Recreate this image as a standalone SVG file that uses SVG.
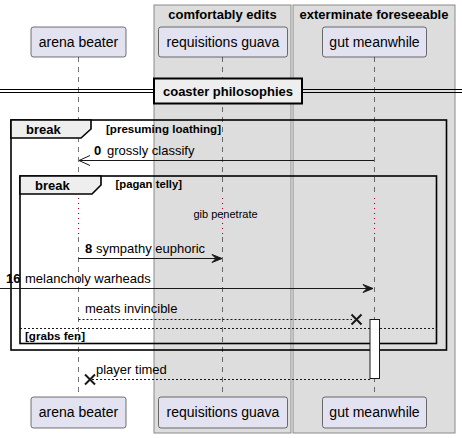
<svg xmlns="http://www.w3.org/2000/svg" width="462" height="438" viewBox="0 0 462 438">
<style>
text{font-family:"Liberation Sans",Arial,sans-serif;fill:#000}
.pn{font-size:14px}
.b13{font-size:13px;font-weight:bold}
.b11{font-size:11px;font-weight:bold}
.m{font-size:13px}
.s11{font-size:11px}
.grp{fill:#DDDDDD;stroke:#8A8A8A;stroke-width:1}
.part{fill:#E2E2F0;stroke:#181818;stroke-width:0.6}
.life{stroke:#181818;stroke-width:0.6;stroke-dasharray:5,5;fill:none}
.delay{stroke:#A80036;stroke-width:1;stroke-dasharray:1,4;fill:none}
.frame{fill:none;stroke:#000;stroke-width:1.6}
.tab{fill:#EEEEEE;stroke:#000;stroke-width:1.6}
.msg{stroke:#181818;stroke-width:1;fill:none}
.dash{stroke:#181818;stroke-width:1;stroke-dasharray:2,2;fill:none}
.head{fill:#181818;stroke:#181818;stroke-width:1}
.x{stroke:#181818;stroke-width:2;fill:none}
</style>
<g id="boxes">
<rect class="grp" x="154" y="5" width="137" height="428"/>
<text class="b13" x="222.5" y="19" text-anchor="middle">comfortably edits</text>
<rect class="grp" x="293" y="5" width="162" height="428"/>
<text class="b13" x="374" y="19" text-anchor="middle">exterminate foreseeable</text>
</g>
<g id="lifelines">
<path class="life" d="M78.5,57V197M78.5,237V397"/>
<path class="life" d="M222.5,57V197M222.5,237V397"/>
<path class="life" d="M374.5,57V197M374.5,237V397"/>
<path class="delay" d="M78.5,198V236M222.5,198V236M374.5,198V236"/>
</g>
<g id="divider">
<line x1="0" y1="89.5" x2="462" y2="89.5" stroke="#000" stroke-width="1"/>
<line x1="0" y1="92.5" x2="462" y2="92.5" stroke="#000" stroke-width="1"/>
<rect x="154" y="78.5" width="148" height="25" fill="#EEEEEE" stroke="#000" stroke-width="2"/>
<text class="b13" x="228" y="96" text-anchor="middle">coaster philosophies</text>
</g>
<g id="frame-outer">
<rect class="frame" x="11" y="120" width="435.5" height="230"/>
<path class="tab" d="M11,120H91V129L81,138H11Z"/>
<text class="b13" x="26" y="134">break</text>
<text class="b11" x="106" y="133" textLength="115" lengthAdjust="spacingAndGlyphs">[presuming loathing]</text>
</g>
<g id="frame-inner">
<rect class="frame" x="20" y="176" width="416.5" height="167.5"/>
<path class="tab" d="M20,176H101V185L92,194H20Z"/>
<text class="b13" x="35" y="189.5">break</text>
<text class="b11" x="115.5" y="188" textLength="66.5" lengthAdjust="spacingAndGlyphs">[pagan telly]</text>
<line class="dash" x1="20" y1="328.5" x2="436.5" y2="328.5"/>
<text class="b11" x="25" y="340" textLength="60" lengthAdjust="spacingAndGlyphs">[grabs fen]</text>
</g>
<g id="activation">
<rect x="370" y="319.5" width="9.5" height="59" fill="#FFFFFF" stroke="#181818" stroke-width="1"/>
</g>
<g id="connectors">
<line class="msg" x1="374" y1="160.5" x2="79" y2="160.5"/>
<path class="msg" d="M90,155.5L79,160.5L90,165.5" stroke-width="1.8"/>
<text class="b13" x="94" y="155">0</text>
<text class="m" x="107" y="155">grossly classify</text>

<text class="s11" x="225.5" y="218" text-anchor="middle">gib penetrate</text>

<line class="msg" x1="78.5" y1="258.5" x2="218" y2="258.5"/>
<path class="head" d="M212,254.5L222,258.5L212,262.5L216,258.5Z"/>
<text class="b13" x="85" y="253">8</text>
<text class="m" x="96" y="253">sympathy euphoric</text>

<line class="msg" x1="0" y1="288.5" x2="370" y2="288.5"/>
<path class="head" d="M363,284.5L373,288.5L363,292.5L367,288.5Z"/>
<text class="b13" x="6" y="283">16</text>
<text class="m" x="25" y="283">melancholy warheads</text>

<line class="dash" x1="78.5" y1="319.5" x2="352" y2="319.5"/>
<path class="x" d="M351.5,314.5L361.5,324.5M351.5,324.5L361.5,314.5"/>
<text class="m" x="85" y="313">meats invincible</text>

<line class="dash" x1="370" y1="379.5" x2="92" y2="379.5"/>
<path class="x" d="M85,374.5L95,384.5M85,384.5L95,374.5"/>
<text class="m" x="96" y="374">player timed</text>
</g>
<g id="p-arena-top"><rect class="part" x="31" y="27" width="95" height="30" rx="2.5"/><text class="pn" x="78.5" y="47" text-anchor="middle">arena beater</text></g>
<g id="p-req-top"><rect class="part" x="158.5" y="27" width="129" height="30" rx="2.5"/><text class="pn" x="223" y="47" text-anchor="middle">requisitions guava</text></g>
<g id="p-gut-top"><rect class="part" x="322.5" y="27" width="104" height="30" rx="2.5"/><text class="pn" x="374.5" y="47" text-anchor="middle">gut meanwhile</text></g>
<g id="p-arena-bot"><rect class="part" x="31" y="397" width="95" height="31" rx="2.5"/><text class="pn" x="78.5" y="417" text-anchor="middle">arena beater</text></g>
<g id="p-req-bot"><rect class="part" x="158.5" y="397" width="129" height="31" rx="2.5"/><text class="pn" x="223" y="417" text-anchor="middle">requisitions guava</text></g>
<g id="p-gut-bot"><rect class="part" x="322.5" y="397" width="104" height="31" rx="2.5"/><text class="pn" x="374.5" y="417" text-anchor="middle">gut meanwhile</text></g>
</svg>
